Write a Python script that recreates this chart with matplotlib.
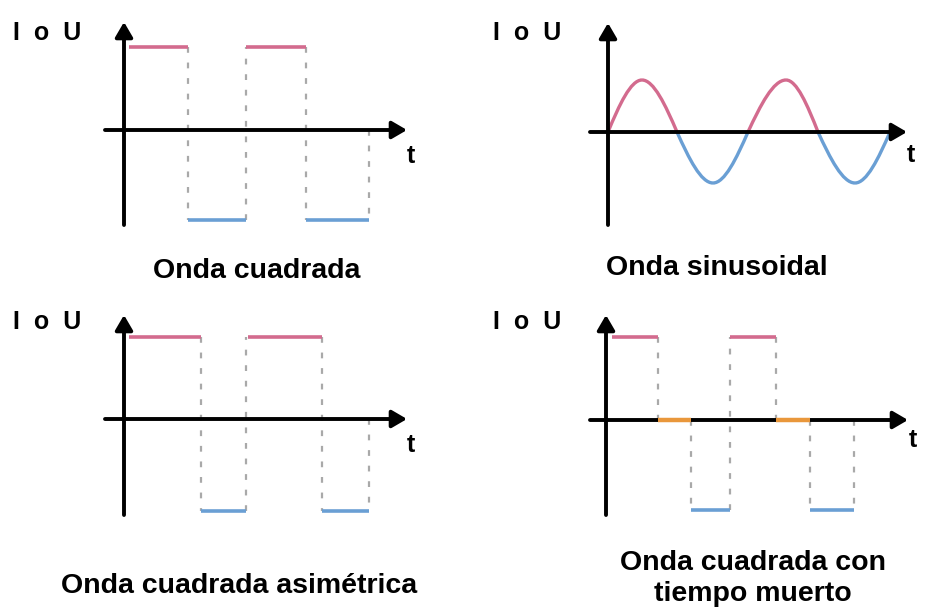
import matplotlib.pyplot as plt
from matplotlib.path import Path
from matplotlib.patches import PathPatch

plt.rcParams['font.family'] = ['Liberation Sans', 'DejaVu Sans']

PINK = "#d36b8e"
BLUE = "#6a9fd4"
ORANGE = "#e9973b"
GREY = "#a9a9a9"

# units: 1 unit = 1 px of the original picture, origin where the axes cross
# onda cuadrada
sq_start = [5, 64, 122, 182]
sq_end = [64, 122, 182, 245]
sq_level = [83, -90, 83, -90]

# onda sinusoidal : points where the curve crosses zero or peaks
sin_t = [0, 34, 69, 105, 140, 178, 210, 247, 282]
sin_v = [0, 52, 0, -51, 0, 52, 0, -51, 0]

# onda cuadrada asimetrica
asym_start = [5, 77, 124, 198]
asym_end = [77, 122, 198, 245]
asym_level = [82, -92, 82, -92]

# onda cuadrada con tiempo muerto
dead_start = [6, 52, 85, 124, 170, 204]
dead_end = [52, 85, 124, 170, 204, 248]
dead_level = [83, 0, -90, 83, 0, -90]

W, H = 925, 609
fig = plt.figure(figsize=(W / 100, H / 100), dpi=100)


def panel(ox, oy, xaxis, yaxis):
    # full-figure transparent axes, origin at pixel (ox, oy)
    ax = fig.add_axes([0, 0, 1, 1])
    ax.set_xlim(-ox, W - ox)
    ax.set_ylim(oy - H, oy)
    ax.axis('off')
    ax.patch.set_alpha(0)
    arr = dict(arrowstyle="-|>,head_length=0.6,head_width=0.35",
               color="black", lw=2.8, shrinkA=0, shrinkB=0, mutation_scale=15)
    ax.annotate("", xy=(xaxis[1], 0), xytext=(xaxis[0], 0), arrowprops=arr, zorder=5)
    ax.annotate("", xy=(0, yaxis[1]), xytext=(0, yaxis[0]), arrowprops=arr, zorder=5)
    return ax


def color_of(v):
    if v > 0:
        return PINK
    if v < 0:
        return BLUE
    return ORANGE


def dotted(ax, x, y0, y1):
    ax.plot([x, x], [y0, y1], color=GREY, lw=1.6, dashes=(2.6, 4.4),
            zorder=2)


def square(ax, starts, ends, levels, last_drop):
    for s, e, v in zip(starts, ends, levels):
        ax.plot([s, e], [v, v], color=color_of(v), lw=2.6 if v else 3.2,
                solid_capstyle='butt', zorder=3 if v else 6)
    # dotted guides at each edge
    for i in range(len(starts) - 1):
        dotted(ax, ends[i], levels[i], levels[i + 1])
    dotted(ax, ends[-1], 0, last_drop)


def labels(ax, ox, oy, tx, ty, title_lines, title_x, title_y):
    yl = 40 if oy < 300 else 329
    xl = 13 if ox < 400 else 493
    ax.text(xl - ox, oy - yl, "I  o  U", fontsize=18, fontweight='bold',
            ha='left', va='baseline')
    ax.text(tx - ox, oy - ty, "t", fontsize=18, fontweight='bold',
            ha='center', va='baseline')
    for line, yb in zip(title_lines, title_y):
        ax.text(title_x - ox, oy - yb, line, fontsize=20.5, fontweight='bold',
                ha='center', va='baseline')


# top left
ax1 = panel(124, 130, (-19, 283), (-95, 108))
square(ax1, sq_start, sq_end, sq_level, -90)
labels(ax1, 124, 130, 411, 163, ["Onda cuadrada"], 257, [278])

# top right
ax2 = panel(608, 132, (-18, 299), (-93, 109))
for i in range(len(sin_t) - 1):
    t0, t1 = sin_t[i], sin_t[i + 1]
    v0, v1 = sin_v[i], sin_v[i + 1]
    w = t1 - t0
    if v0 == 0:
        # leaving zero with the sine slope, arriving flat at the peak
        c1 = (t0 + w / 3, v0 + v1 * 3.1416 / 6)
        c2 = (t1 - w / 3, v1)
        col = color_of(v1)
    else:
        c1 = (t0 + w / 3, v0)
        c2 = (t1 - w / 3, v1 + v0 * 3.1416 / 6)
        col = color_of(v0)
    p = Path([(t0, v0), c1, c2, (t1, v1)],
             [Path.MOVETO, Path.CURVE4, Path.CURVE4, Path.CURVE4])
    ax2.add_patch(PathPatch(p, fill=False, edgecolor=col, lw=2.4, zorder=3))
labels(ax2, 608, 132, 911, 162, ["Onda sinusoidal"], 717, [275])

# bottom left
ax3 = panel(124, 419, (-19, 283), (-96, 104))
square(ax3, asym_start, asym_end, asym_level, -92)
labels(ax3, 124, 419, 411, 452, ["Onda cuadrada asimétrica"], 239, [593])

# bottom right
ax4 = panel(606, 420, (-16, 302), (-95, 105))
square(ax4, dead_start, dead_end, dead_level, -90)
labels(ax4, 606, 420, 913, 447, ["Onda cuadrada con", "tiempo muerto"], 753, [570, 601])

fig.savefig("out.png", dpi=100, facecolor="white")
